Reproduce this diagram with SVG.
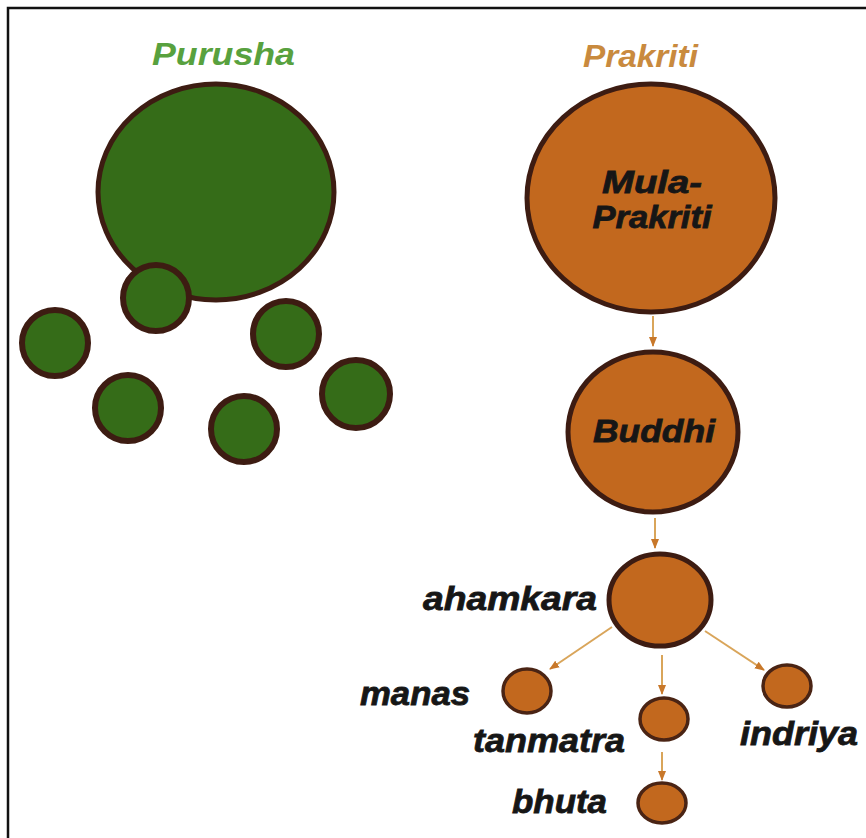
<svg xmlns="http://www.w3.org/2000/svg" width="866" height="838" viewBox="0 0 866 838">
<defs>
<style>
.g{fill:#356c18;stroke:#3d1c12;stroke-width:6}
.gb{fill:#356c18;stroke:#3d1c12;stroke-width:5}
.o{fill:#c2681e;stroke:#3d1c12;stroke-width:5}
.os{fill:#c2681e;stroke:#4a2414;stroke-width:3.5}
.lbl{font-family:"Liberation Sans",Arial,sans-serif;font-weight:bold;font-style:italic;fill:#161616;stroke:#161616;stroke-width:0.8}
.ttl{font-family:"Liberation Sans",Arial,sans-serif;font-weight:bold;font-style:italic;font-size:32px}
.edge{stroke:#d9a55a;stroke-width:2;fill:none;marker-end:url(#ah)}
</style>
<marker id="ah" viewBox="0 0 10 10" refX="9" refY="5" markerWidth="5" markerHeight="5" orient="auto" markerUnits="strokeWidth">
<path d="M0,1 L10,5 L0,9 Z" fill="#c8782a"/>
</marker>
</defs>
<rect x="0" y="0" width="866" height="838" fill="#ffffff"/>
<path d="M8,838 L8,8 L866,8" fill="none" stroke="#111" stroke-width="2.5"/>

<g id="purusha">
<text class="ttl" x="152" y="65" fill="#58a13e" textLength="143" lengthAdjust="spacingAndGlyphs">Purusha</text>
<g id="purusha-big"><ellipse class="gb" cx="216" cy="192" rx="118" ry="108"/></g>
<g id="p1"><circle class="g" cx="156" cy="298" r="33"/></g>
<g id="p2"><circle class="g" cx="55" cy="343" r="33"/></g>
<g id="p3"><circle class="g" cx="286" cy="334" r="33"/></g>
<g id="p4"><circle class="g" cx="128" cy="408" r="33"/></g>
<g id="p5"><circle class="g" cx="244" cy="429" r="33"/></g>
<g id="p6"><circle class="g" cx="356" cy="394" r="34"/></g>
</g>

<text class="ttl" x="583" y="67" fill="#c98a3e" textLength="115" lengthAdjust="spacingAndGlyphs">Prakriti</text>

<g id="connectors">
<line class="edge" x1="653" y1="316" x2="653" y2="346"/>
<line class="edge" x1="655" y1="518" x2="655" y2="548"/>
<line class="edge" x1="612" y1="627" x2="550" y2="669"/>
<line class="edge" x1="662" y1="655" x2="662" y2="694"/>
<line class="edge" x1="705" y1="631" x2="764" y2="670"/>
<line class="edge" x1="662" y1="752" x2="662" y2="780"/>
</g>

<g id="mula">
<ellipse class="o" cx="651" cy="198" rx="124" ry="114"/>
<text class="lbl" font-size="32" x="652" y="193" text-anchor="middle" textLength="100" lengthAdjust="spacingAndGlyphs">Mula-</text>
<text class="lbl" font-size="32" x="652" y="228" text-anchor="middle" textLength="119" lengthAdjust="spacingAndGlyphs">Prakriti</text>
</g>
<g id="buddhi">
<ellipse class="o" cx="653" cy="432" rx="85" ry="80"/>
<text class="lbl" font-size="32" x="654" y="442" text-anchor="middle" textLength="122" lengthAdjust="spacingAndGlyphs">Buddhi</text>
</g>
<g id="ahamkara">
<ellipse class="o" cx="660" cy="600" rx="51" ry="46"/>
<text class="lbl" font-size="34" x="423" y="610" textLength="174" lengthAdjust="spacingAndGlyphs">ahamkara</text>
</g>
<g id="manas">
<ellipse class="os" cx="527" cy="691" rx="24" ry="22"/>
<text class="lbl" font-size="34" x="360" y="705" textLength="110" lengthAdjust="spacingAndGlyphs">manas</text>
</g>
<g id="tanmatra">
<ellipse class="os" cx="664" cy="719" rx="24" ry="21"/>
<text class="lbl" font-size="34" x="473" y="752" textLength="152" lengthAdjust="spacingAndGlyphs">tanmatra</text>
</g>
<g id="indriya">
<ellipse class="os" cx="787" cy="686" rx="24" ry="21"/>
<text class="lbl" font-size="34" x="740" y="745" textLength="118" lengthAdjust="spacingAndGlyphs">indriya</text>
</g>
<g id="bhuta">
<ellipse class="os" cx="662" cy="803" rx="24" ry="20"/>
<text class="lbl" font-size="34" x="512" y="813" textLength="95" lengthAdjust="spacingAndGlyphs">bhuta</text>
</g>
</svg>
